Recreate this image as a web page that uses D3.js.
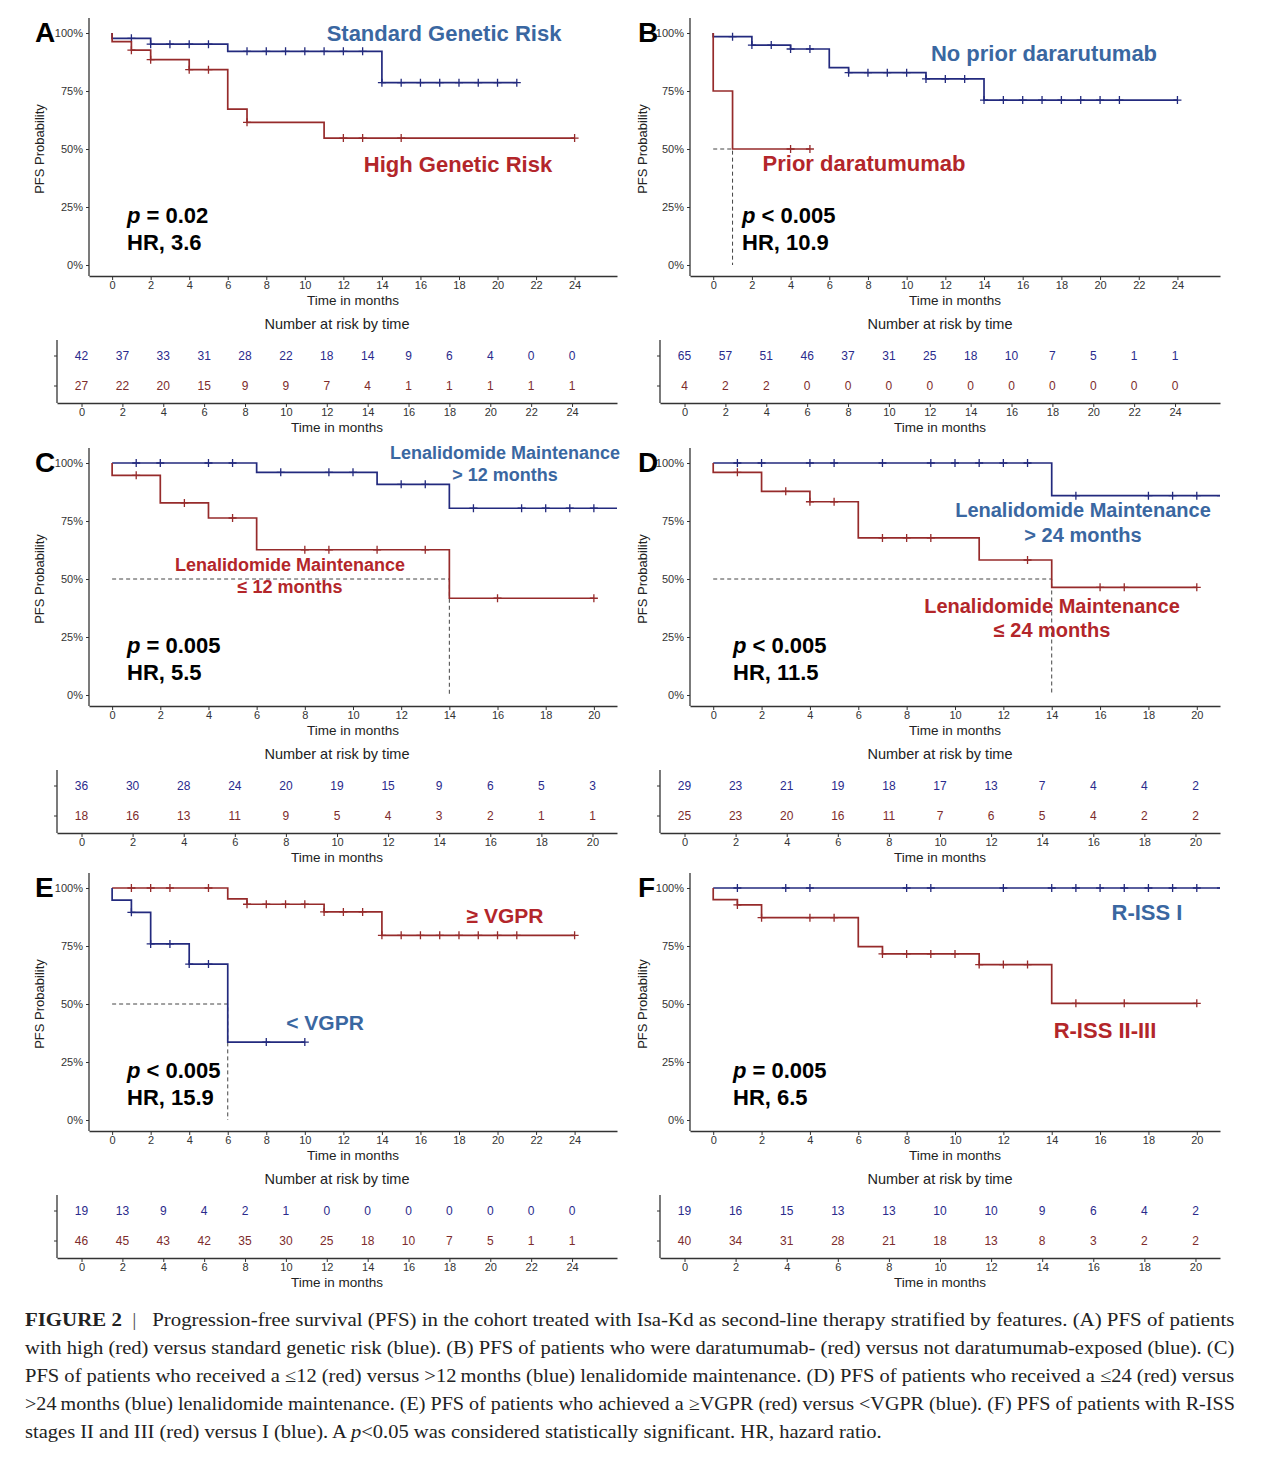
<!DOCTYPE html>
<html>
<head>
<meta charset="utf-8">
<script src="https://cdn.jsdelivr.net/npm/d3@7"></script>
<style>
  body { margin: 0; background: #fff; }
  svg { display: block; }
  text { font-family: "Liberation Sans", Arial, sans-serif; }
</style>
</head>
<body>
<svg id="fig" width="1266" height="1458"></svg>
<script>
// ---- shared ticks ----
const ticks24 = [0, 2, 4, 6, 8, 10, 12, 14, 16, 18, 20, 22, 24];
const ticks20 = [0, 2, 4, 6, 8, 10, 12, 14, 16, 18, 20];
const yTicks = [0, 0.25, 0.5, 0.75, 1];

// ---- Panel A: genetic risk ----
const aStdTime = [0, 0, 2, 6, 14];
const aStdSurv = [1, 0.977, 0.952, 0.921, 0.786];
const aStdEnd = 21;
const aStdCens = [1, 2, 3, 4, 5, 7, 8, 9, 10, 11, 12, 13, 14, 15, 16, 17, 18, 19, 20, 21];
const aHighTime = [0, 0, 1, 2, 4, 6, 7, 11];
const aHighSurv = [1, 0.963, 0.926, 0.885, 0.842, 0.672, 0.615, 0.547];
const aHighEnd = 24;
const aHighCens = [1, 2, 4, 5, 7, 12, 13, 15, 24];
const aRiskStd = [42, 37, 33, 31, 28, 22, 18, 14, 9, 6, 4, 0, 0];
const aRiskHigh = [27, 22, 20, 15, 9, 9, 7, 4, 1, 1, 1, 1, 1];

// ---- Panel B: prior daratumumab ----
const bNoTime = [0, 0, 2, 4, 6, 7, 11, 14];
const bNoSurv = [1, 0.984, 0.948, 0.931, 0.851, 0.829, 0.802, 0.711];
const bNoEnd = 24;
const bNoCens = [1, 2, 3, 4, 5, 7, 8, 9, 10, 11, 12, 13, 14, 15, 16, 17, 18, 19, 20, 21, 24];
const bPriorTime = [0, 0, 1];
const bPriorSurv = [1, 0.75, 0.5];
const bPriorEnd = 5;
const bPriorCens = [4, 5];
const bRiskNo = [65, 57, 51, 46, 37, 31, 25, 18, 10, 7, 5, 1, 1];
const bRiskPrior = [4, 2, 2, 0, 0, 0, 0, 0, 0, 0, 0, 0, 0];

// ---- Panel C: lenalidomide > / <= 12 months ----
const cLongTime = [0, 6, 11, 14];
const cLongSurv = [1, 0.96, 0.908, 0.805];
const cLongEnd = 21;
const cLongCens = [1, 2, 4, 5, 7, 9, 10, 12, 13, 15, 17, 18, 19, 20];
const cShortTime = [0, 0, 2, 4, 6, 14];
const cShortSurv = [1, 0.947, 0.828, 0.763, 0.626, 0.417];
const cShortEnd = 20;
const cShortCens = [1, 3, 5, 8, 9, 11, 13, 16, 20];
const cRiskLong = [36, 30, 28, 24, 20, 19, 15, 9, 6, 5, 3];
const cRiskShort = [18, 16, 13, 11, 9, 5, 4, 3, 2, 1, 1];

// ---- Panel D: lenalidomide > / <= 24 months ----
const dLongTime = [0, 14];
const dLongSurv = [1, 0.859];
const dLongEnd = 21;
const dLongCens = [1, 2, 4, 5, 7, 9, 10, 11, 12, 13, 15, 18, 19, 20, 21];
const dShortTime = [0, 0, 2, 4, 6, 11, 14];
const dShortSurv = [1, 0.96, 0.878, 0.833, 0.677, 0.582, 0.464];
const dShortEnd = 20;
const dShortCens = [1, 3, 4, 5, 7, 8, 9, 13, 16, 17, 20];
const dRiskLong = [29, 23, 21, 19, 18, 17, 13, 7, 4, 4, 2];
const dRiskShort = [25, 23, 20, 16, 11, 7, 6, 5, 4, 2, 2];

// ---- Panel E: response ----
const eLowTime = [0, 0, 1, 2, 4, 6];
const eLowSurv = [1, 0.948, 0.895, 0.759, 0.672, 0.336];
const eLowEnd = 10;
const eLowCens = [1, 2, 3, 4, 5, 8, 10];
const eHighTime = [0, 6, 7, 11, 14];
const eHighSurv = [1, 0.953, 0.93, 0.897, 0.796];
const eHighEnd = 24;
const eHighCens = [1, 2, 3, 5, 7, 8, 9, 10, 11, 12, 13, 14, 15, 16, 17, 18, 19, 20, 21, 24];
const eRiskLow = [19, 13, 9, 4, 2, 1, 0, 0, 0, 0, 0, 0, 0];
const eRiskHigh = [46, 45, 43, 42, 35, 30, 25, 18, 10, 7, 5, 1, 1];

// ---- Panel F: R-ISS ----
const fOneTime = [0];
const fOneSurv = [1];
const fOneEnd = 21;
const fOneCens = [1, 3, 4, 8, 9, 12, 14, 15, 16, 17, 18, 19, 20, 21];
const fTwoTime = [0, 0, 1, 2, 6, 7, 11, 14];
const fTwoSurv = [1, 0.95, 0.927, 0.872, 0.747, 0.716, 0.67, 0.503];
const fTwoEnd = 20;
const fTwoCens = [1, 2, 4, 5, 7, 8, 9, 10, 11, 12, 13, 15, 17, 20];
const fRiskOne = [19, 16, 15, 13, 13, 10, 10, 9, 6, 4, 2];
const fRiskTwo = [40, 34, 31, 28, 21, 18, 13, 8, 3, 2, 2];

// ---- caption ----
const captionLines = [
  "Progression-free survival (PFS) in the cohort treated with Isa-Kd as second-line therapy stratified by features. (A) PFS of patients",
  "with high (red) versus standard genetic risk (blue). (B) PFS of patients who were daratumumab- (red) versus not daratumumab-exposed (blue). (C)",
  "PFS of patients who received a \u226412 (red) versus >12\u2009months (blue) lenalidomide maintenance. (D) PFS of patients who received a \u226424 (red) versus",
  ">24\u2009months (blue) lenalidomide maintenance. (E) PFS of patients who achieved a \u2265VGPR (red) versus <VGPR (blue). (F) PFS of patients with R-ISS",
  "stages II and III (red) versus I (blue). A |p|<0.05 was considered statistically significant. HR, hazard ratio."
];

// ---- styling ----
const lineBlue = "#232a7e", lineRed = "#962b2b";
const labBlue = "#3a67a1", labRed = "#b3262a";
const numBlue = "#2a2a8c", numRed = "#7d2b2b";
const axisCol = "#333";

const svg = d3.select("#fig");

const cols = {
  L: {axisL: 89, axisR: 617, riskL: 57, riskR: 617, yTitle: 44, letter: 35},
  R: {axisL: 690, axisR: 1220, riskL: 660, riskR: 1220, yTitle: 647, letter: 638}
};
const rowOff = [0, 430, 855];
const dom24 = [-1.2, 26.2], dom20 = [-0.96, 20.96];

function curve(time, surv, end) {
  const pts = time.map((t, i) => [t, surv[i]]);
  pts.push([end, surv[surv.length - 1]]);
  return pts;
}
function survAt(time, surv, t) {
  let s = surv[0];
  time.forEach((tt, i) => { if (tt <= t) s = surv[i]; });
  return s;
}

const panels = [
  {id: "A", col: "L", row: 0, dom: dom24, ticks: ticks24,
   series: [
     {time: aStdTime, surv: aStdSurv, end: aStdEnd, cens: aStdCens, color: lineBlue},
     {time: aHighTime, surv: aHighSurv, end: aHighEnd, cens: aHighCens, color: lineRed}],
   risk: [aRiskStd, aRiskHigh], median: null,
   labels: [
     {lines: ["Standard Genetic Risk"], x: 444, y: 41, size: 22, color: labBlue},
     {lines: ["High Genetic Risk"], x: 458, y: 172, size: 22, color: labRed}],
   stat: ["=", "0.02", "3.6"], statX: 127},
  {id: "B", col: "R", row: 0, dom: dom24, ticks: ticks24,
   series: [
     {time: bNoTime, surv: bNoSurv, end: bNoEnd, cens: bNoCens, color: lineBlue},
     {time: bPriorTime, surv: bPriorSurv, end: bPriorEnd, cens: bPriorCens, color: lineRed}],
   risk: [bRiskNo, bRiskPrior], median: 1,
   labels: [
     {lines: ["No prior dararutumab"], x: 1044, y: 61, size: 22, color: labBlue},
     {lines: ["Prior daratumumab"], x: 864, y: 171, size: 22, color: labRed}],
   stat: ["<", "0.005", "10.9"], statX: 742},
  {id: "C", col: "L", row: 1, dom: dom20, ticks: ticks20,
   series: [
     {time: cLongTime, surv: cLongSurv, end: cLongEnd, cens: cLongCens, color: lineBlue},
     {time: cShortTime, surv: cShortSurv, end: cShortEnd, cens: cShortCens, color: lineRed}],
   risk: [cRiskLong, cRiskShort], median: 14,
   labels: [
     {lines: ["Lenalidomide Maintenance", "> 12 months"], x: 505, y: 459, size: 18, gap: 22, color: labBlue},
     {lines: ["Lenalidomide Maintenance", "\u2264 12 months"], x: 290, y: 571, size: 18, gap: 22, color: labRed}],
   stat: ["=", "0.005", "5.5"], statX: 127},
  {id: "D", col: "R", row: 1, dom: dom20, ticks: ticks20,
   series: [
     {time: dLongTime, surv: dLongSurv, end: dLongEnd, cens: dLongCens, color: lineBlue},
     {time: dShortTime, surv: dShortSurv, end: dShortEnd, cens: dShortCens, color: lineRed}],
   risk: [dRiskLong, dRiskShort], median: 14,
   labels: [
     {lines: ["Lenalidomide Maintenance", "> 24 months"], x: 1083, y: 517, size: 20, gap: 25, color: labBlue},
     {lines: ["Lenalidomide Maintenance", "\u2264 24 months"], x: 1052, y: 613, size: 20, gap: 24, color: labRed}],
   stat: ["<", "0.005", "11.5"], statX: 733},
  {id: "E", col: "L", row: 2, dom: dom24, ticks: ticks24,
   series: [
     {time: eHighTime, surv: eHighSurv, end: eHighEnd, cens: eHighCens, color: lineRed},
     {time: eLowTime, surv: eLowSurv, end: eLowEnd, cens: eLowCens, color: lineBlue}],
   risk: [eRiskLow, eRiskHigh], median: 6,
   labels: [
     {lines: ["\u2265 VGPR"], x: 505, y: 923, size: 21, color: labRed},
     {lines: ["< VGPR"], x: 325, y: 1030, size: 21, color: labBlue}],
   stat: ["<", "0.005", "15.9"], statX: 127},
  {id: "F", col: "R", row: 2, dom: dom20, ticks: ticks20,
   series: [
     {time: fOneTime, surv: fOneSurv, end: fOneEnd, cens: fOneCens, color: lineBlue},
     {time: fTwoTime, surv: fTwoSurv, end: fTwoEnd, cens: fTwoCens, color: lineRed}],
   risk: [fRiskOne, fRiskTwo], median: null,
   labels: [
     {lines: ["R-ISS I"], x: 1147, y: 920, size: 22, color: labBlue},
     {lines: ["R-ISS II-III"], x: 1105, y: 1038, size: 22, color: labRed}],
   stat: ["=", "0.005", "6.5"], statX: 733}
];

function styleTicks(a) {
  a.selectAll(".domain").attr("stroke", axisCol).attr("stroke-width", 1.3);
  a.selectAll(".tick line").attr("stroke", axisCol);
  a.selectAll(".tick text").attr("fill", "#333").style("font-size", "11px")
    .style("font-family", '"Liberation Sans", Arial, sans-serif');
}

function drawPanel(p) {
  const c = cols[p.col], o = rowOff[p.row];
  const g = svg.append("g").attr("class", "panel-" + p.id);

  const x = d3.scaleLinear().domain(p.dom).range([c.axisL, c.axisR]);
  const y = d3.scaleLinear().domain([0, 1]).range([265 + o, 33 + o]);
  const top = 18 + o, bottom = 276 + o;

  // clip to plotting area
  g.append("clipPath").attr("id", "clip" + p.id)
    .append("rect").attr("x", c.axisL).attr("y", top - 6)
    .attr("width", c.axisR - c.axisL).attr("height", bottom - top + 6);

  // median dashed guides
  if (p.median !== null) {
    g.append("path")
      .attr("d", `M${x(0)},${y(0.5)}H${x(p.median)}V${y(0)}`)
      .attr("fill", "none").attr("stroke", "#444").attr("stroke-width", 1)
      .attr("stroke-dasharray", "4,3");
  }

  // curves
  const line = d3.line().x(d => x(d[0])).y(d => y(d[1])).curve(d3.curveStepAfter);
  const plot = g.append("g").attr("clip-path", `url(#clip${p.id})`);
  p.series.forEach(s => {
    plot.append("path")
      .datum(curve(s.time, s.surv, s.end))
      .attr("d", line)
      .attr("fill", "none").attr("stroke", s.color).attr("stroke-width", 1.7);
    plot.selectAll(null).data(s.cens).join("path")
      .attr("d", t => {
        const cx = x(t), cy = y(survAt(s.time, s.surv, t));
        return `M${cx},${cy - 4}V${cy + 4}M${cx - 4},${cy}H${cx + 4}`;
      })
      .attr("stroke", s.color).attr("stroke-width", 1.3);
  });

  // axes
  const xAxis = g.append("g").attr("transform", `translate(0,${bottom})`)
    .call(d3.axisBottom(x).tickValues(p.ticks).tickSize(4).tickSizeOuter(0));
  const yAxis = g.append("g").attr("transform", `translate(${c.axisL},0)`)
    .call(d3.axisLeft(y).tickValues(yTicks).tickFormat(d3.format(".0%")).tickSize(3));
  yAxis.select(".domain").remove();
  g.append("line").attr("x1", c.axisL).attr("x2", c.axisL).attr("y1", top).attr("y2", bottom)
    .attr("stroke", axisCol).attr("stroke-width", 1.3);
  styleTicks(xAxis);
  styleTicks(yAxis);
  xAxis.selectAll(".tick text").attr("dy", "0.55em");

  g.append("text").attr("x", (c.axisL + c.axisR) / 2).attr("y", 305 + o)
    .attr("text-anchor", "middle").style("font-size", "13.5px").attr("fill", "#222")
    .text("Time in months");
  g.append("text").attr("transform", `translate(${c.yTitle},${(top + bottom) / 2 + 2}) rotate(-90)`)
    .attr("text-anchor", "middle").style("font-size", "13px").attr("fill", "#222")
    .text("PFS Probability");

  // panel letter
  g.append("text").attr("x", c.letter).attr("y", 42 + o)
    .style("font-size", "28px").style("font-weight", "bold").attr("fill", "#000")
    .text(p.id);

  // curve labels
  p.labels.forEach(l => {
    l.lines.forEach((txt, i) => {
      g.append("text").attr("x", l.x).attr("y", l.y + i * (l.gap || 0))
        .attr("text-anchor", "middle").style("font-size", l.size + "px")
        .style("font-weight", "bold").attr("fill", l.color).text(txt);
    });
  });

  // p value and HR
  const st = g.append("text").attr("x", p.statX).attr("y", 223 + o)
    .style("font-size", "22px").style("font-weight", "bold").attr("fill", "#000");
  st.append("tspan").style("font-style", "italic").text("p");
  st.append("tspan").text(` ${p.stat[0]} ${p.stat[1]}`);
  g.append("text").attr("x", p.statX).attr("y", 250 + o)
    .style("font-size", "22px").style("font-weight", "bold").attr("fill", "#000")
    .text(`HR, ${p.stat[2]}`);

  // number at risk table
  const xr = d3.scaleLinear().domain(p.dom).range([c.riskL, c.riskR]);
  const rTop = 340 + o, rBot = 403 + o, rows = [356 + o, 386 + o];
  g.append("text").attr("x", (c.riskL + c.riskR) / 2).attr("y", 329 + o)
    .attr("text-anchor", "middle").style("font-size", "14.5px").attr("fill", "#222")
    .text("Number at risk by time");
  g.append("line").attr("x1", c.riskL).attr("x2", c.riskL).attr("y1", rTop).attr("y2", rBot)
    .attr("stroke", axisCol).attr("stroke-width", 1.3);
  rows.forEach(ry => g.append("line").attr("x1", c.riskL - 3).attr("x2", c.riskL)
    .attr("y1", ry).attr("y2", ry).attr("stroke", axisCol));
  const rAxis = g.append("g").attr("transform", `translate(0,${rBot})`)
    .call(d3.axisBottom(xr).tickValues(p.ticks).tickSize(4).tickSizeOuter(0));
  styleTicks(rAxis);
  rAxis.selectAll(".tick text").attr("dy", "0.55em");
  g.append("text").attr("x", (c.riskL + c.riskR) / 2).attr("y", 432 + o)
    .attr("text-anchor", "middle").style("font-size", "13.5px").attr("fill", "#222")
    .text("Time in months");

  p.risk.forEach((vals, r) => {
    g.selectAll(null).data(vals).join("text")
      .attr("x", (d, i) => xr(p.ticks[i])).attr("y", rows[r] + 4)
      .attr("text-anchor", "middle").style("font-size", "12px")
      .attr("fill", r === 0 ? numBlue : numRed).text(d => d);
  });
}

panels.forEach(drawPanel);

// caption
const cap = svg.append("g").attr("class", "caption");
const capX = 25, capW = 1210, capY0 = 1326, capDy = 28;
const scales = [];
captionLines.forEach((ln, i) => {
  const t = cap.append("text").attr("x", 0).attr("y", 0)
    .style("font-family", '"Liberation Serif", "DejaVu Serif", serif')
    .style("font-size", "18.5px").attr("fill", "#222");
  if (i === 0) {
    t.append("tspan").style("font-weight", "bold").text("FIGURE 2");
    t.append("tspan").attr("fill", "#555").text("\u2002|\u2002 ");
  }
  ln.split("|").forEach((part, k) => {
    if (k % 2 === 1) t.append("tspan").style("font-style", "italic").text(part);
    else t.append("tspan").text(part);
  });
  scales.push({t, w: t.node().getComputedTextLength(), i});
});
const avgScale = d3.mean(scales.slice(0, 4), s => capW / s.w);
scales.forEach(s => {
  const k = s.i < 4 ? capW / s.w : avgScale;
  s.t.attr("transform", `translate(${capX},${capY0 + s.i * capDy}) scale(${k},1)`);
});
</script>
</body>
</html>
